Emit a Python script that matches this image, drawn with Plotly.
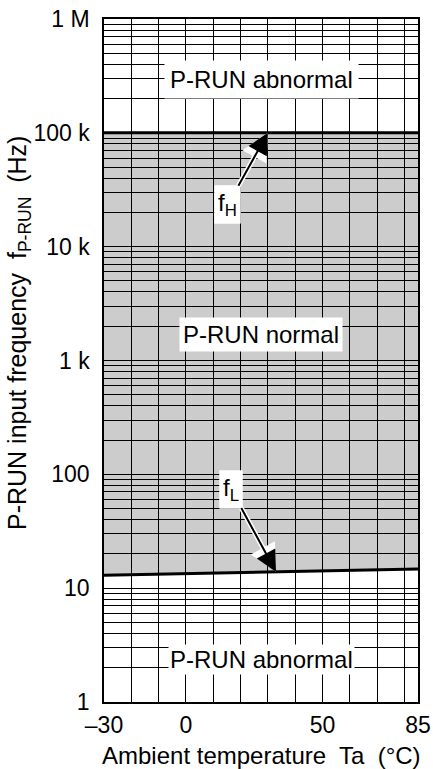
import plotly.graph_objects as go
import math

# ---- data ----
temps = [-30, 0, 50, 85]                 # ambient temperature (°C)
f_low = [13.0, 13.4, 14.1, 14.7]         # fL (Hz)
f_high = [100000, 100000, 100000, 100000]  # fH (Hz)

y_tick_vals = [1, 10, 100, 1000, 10000, 100000, 1000000]
y_tick_text = ["1", "10", "100", "1 k", "10 k", "100 k", "1 M"]
x_tick_vals = [-30, 0, 50, 85]
x_tick_text = ["\u201330", "0", "50", "85"]
x_grid_vals = [-20, -10, 10, 20, 30, 40, 60, 70, 80]
y_minor_vals = [m * 10 ** e for e in range(0, 6) for m in range(2, 10)]

FONT = "Liberation Sans, Arial, sans-serif"
FS_TICK = 23
FS = 24

fig = go.Figure()

# gray "normal" region between fL and fH
pts = [(x, y) for x, y in zip(temps, f_low)] + [(x, y) for x, y in zip(temps[::-1], f_high[::-1])]
path = "M " + " L ".join(f"{x},{y}" for x, y in pts) + " Z"
fig.add_shape(type="path", path=path, xref="x", yref="y", fillcolor="#cccccc",
              line=dict(width=0), layer="below")

fig.add_trace(go.Scatter(x=temps, y=f_high, mode="lines", line=dict(color="black", width=3),
                         hoverinfo="skip", showlegend=False))
fig.add_trace(go.Scatter(x=temps, y=f_low, mode="lines", line=dict(color="black", width=3),
                         hoverinfo="skip", showlegend=False))

fig.update_xaxes(range=[-30, 85], tickvals=x_tick_vals, ticktext=x_tick_text,
                 showgrid=True, gridcolor="black", gridwidth=1,
                 minor=dict(tickvals=x_grid_vals, showgrid=True, gridcolor="black", gridwidth=1),
                 showline=True, linecolor="black", linewidth=1.5, mirror=True,
                 zeroline=False, ticks="", automargin=False, ticklabelstandoff=2,
                 tickfont=dict(family=FONT, size=FS_TICK, color="black"))
fig.update_yaxes(type="log", range=[0, 6], tickvals=y_tick_vals, ticktext=y_tick_text,
                 showgrid=True, gridcolor="black", gridwidth=1,
                 minor=dict(tickvals=y_minor_vals, showgrid=True, gridcolor="black", gridwidth=1),
                 showline=True, linecolor="black", linewidth=1.5, mirror=True,
                 zeroline=False, ticks="", ticklabelstandoff=8, automargin=False,
                 tickfont=dict(family=FONT, size=FS_TICK, color="black"))

lab = dict(family=FONT, size=FS, color="black")
ann = []
# region labels
ann.append(dict(x=27.5, y=5.47, xref="x", yref="y", text="P-RUN abnormal", showarrow=False,
                font=lab, bgcolor="white", borderpad=5))
ann.append(dict(x=27.5, y=3.23, xref="x", yref="y", text="P-RUN normal", showarrow=False,
                font=lab, bgcolor="white", borderpad=3))
ann.append(dict(x=27.5, y=0.377, xref="x", yref="y", text="P-RUN abnormal", showarrow=False,
                font=lab, bgcolor="white", borderpad=1))

fL_at = f_low[1] + (f_low[2] - f_low[1]) * (33 - 0) / 50
arrows = [
    dict(x=30, y=math.log10(f_high[0]), text="f<sub>H</sub>", ax=-40, ay=72),
    dict(x=33, y=math.log10(fL_at), text="f<sub>L</sub>", ax=-45, ay=-83),
]
for a in arrows:
    # white halo arrow
    ann.append(dict(x=a["x"], y=a["y"], xref="x", yref="y", text=a["text"], ax=a["ax"], ay=a["ay"],
                    showarrow=True, arrowhead=2, arrowsize=1.1, arrowwidth=5, arrowcolor="white",
                    font=lab, bgcolor="white", borderpad=3))
    ann.append(dict(x=a["x"], y=a["y"], xref="x", yref="y", text=a["text"], ax=a["ax"], ay=a["ay"],
                    showarrow=True, arrowhead=2, arrowsize=2.1, arrowwidth=2, arrowcolor="black",
                    font=lab, bgcolor="white", borderpad=3))

# axis titles
ann.append(dict(x=(19 - 104) / 314, y=(702 - 333) / 683, xref="paper", yref="paper", textangle=-90,
                text="P-RUN input frequency  f<sub>P-RUN</sub>  (Hz)", showarrow=False,
                font=dict(family=FONT, size=25, color="black"), xanchor="center", yanchor="middle"))
ann.append(dict(x=0.5, y=(702 - 755) / 683, xref="paper", yref="paper",
                text="Ambient temperature  Ta  (\u00b0C)",
                showarrow=False, font=lab, xanchor="center", yanchor="middle"))

fig.update_layout(width=433, height=769, margin=dict(l=104, r=15, t=19, b=67),
                  plot_bgcolor="white", paper_bgcolor="white", annotations=ann,
                  showlegend=False)

fig.write_html("out.html", config={"displayModeBar": False},
               post_script="document.body.style.margin='0';document.body.style.overflow='hidden';")
